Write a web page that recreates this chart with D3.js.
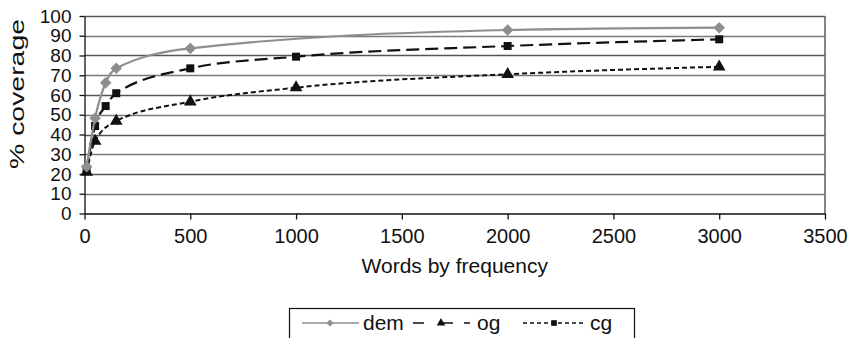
<!DOCTYPE html>
<html>
<head>
<meta charset="utf-8">
<script src="https://cdn.jsdelivr.net/npm/d3@7"></script>
<style>
  body { margin: 0; background: #fff; }
  svg { display: block; font-family: "Liberation Sans", Arial, sans-serif; }
</style>
</head>
<body>
<div id="chart"></div>
<script>
  // Data
  const seriesNames = ["dem", "og", "cg"];
  const demWords = [10, 50, 100, 150, 500, 2000, 3000];
  const demCoverage = [23.7, 48.2, 66.2, 73.5, 83.6, 92.9, 94.1];
  const ogWords = [10, 50, 100, 150, 500, 1000, 2000, 3000];
  const ogCoverage = [22, 44.3, 54.4, 60.9, 73.5, 79.4, 84.8, 88.2];
  const cgWords = [10, 50, 150, 500, 1000, 2000, 3000];
  const cgCoverage = [21, 36.7, 46.8, 56.6, 63.7, 70.5, 74.3];
  const xTicks = [0, 500, 1000, 1500, 2000, 2500, 3000, 3500];
  const yTicks = [0, 10, 20, 30, 40, 50, 60, 70, 80, 90, 100];

  const width = 855;
  const height = 338;

  // Styles per series (plot markers differ from the legend in the original)
  const styles = {
    dem: { color: "#8e8e8e", dash: null, legendDash: null, width: 2.2, plotMarker: "diamond", legendMarker: "diamond" },
    og: { color: "#111", dash: "13,6", legendDash: "11,18,11", width: 2.2, plotMarker: "square", legendMarker: "triangle" },
    cg: { color: "#111", dash: "5,3", legendDash: "4,3", width: 2, plotMarker: "triangle", legendMarker: "square" }
  };

  const seriesData = {
    dem: demWords.map((w, i) => ({ x: w, y: demCoverage[i] })),
    og: ogWords.map((w, i) => ({ x: w, y: ogCoverage[i] })),
    cg: cgWords.map((w, i) => ({ x: w, y: cgCoverage[i] }))
  };

  const svg = d3.select("#chart")
    .append("svg")
    .attr("width", width)
    .attr("height", height);

  // Scales
  const x = d3.scaleLinear().domain([0, 3500]).range([84.5, 825]);
  const y = d3.scaleLinear().domain([0, 100]).range([213.5, 16]);

  // Gridlines
  svg.append("g")
    .selectAll("line")
    .data(yTicks.filter(d => d > 0))
    .enter().append("line")
      .attr("x1", x(0))
      .attr("x2", x(3500))
      .attr("y1", d => Math.round(y(d)) + 0.5)
      .attr("y2", d => Math.round(y(d)) + 0.5)
      .attr("stroke", (d, i) => i % 2 ? "#555" : "#7a7a7a")
      .attr("stroke-width", 1.3);

  // Right border of plot area
  svg.append("line")
    .attr("x1", x(3500)).attr("x2", x(3500))
    .attr("y1", y(100)).attr("y2", y(0))
    .attr("stroke", "#666")
    .attr("stroke-width", 1.6);

  // y axis
  const yAxis = svg.append("g")
    .attr("transform", `translate(${x(0)},0)`)
    .call(d3.axisLeft(y).tickValues(yTicks).tickSize(5).tickPadding(8).tickSizeOuter(0));
  yAxis.selectAll("text").attr("font-size", 19).attr("fill", "#111");
  yAxis.selectAll("line, path").attr("stroke", "#111").attr("stroke-width", 1.3);

  // x axis
  const xAxis = svg.append("g")
    .attr("transform", `translate(0,${y(0)})`)
    .call(d3.axisBottom(x).tickValues(xTicks).tickFormat(d3.format("d"))
      .tickSize(6).tickPadding(9).tickSizeOuter(0));
  xAxis.selectAll("text").attr("font-size", 20).attr("fill", "#111");
  xAxis.selectAll("line, path").attr("stroke", "#111").attr("stroke-width", 1.3);

  // Axis titles
  svg.append("text")
    .attr("x", (x(0) + x(3500)) / 2)
    .attr("y", 273)
    .attr("text-anchor", "middle")
    .attr("font-size", 21)
    .attr("fill", "#111")
    .text("Words by frequency");

  svg.append("text")
    .attr("transform", "translate(24,94) rotate(-90)")
    .attr("text-anchor", "middle")
    .attr("font-size", 20)
    .attr("textLength", 150)
    .attr("lengthAdjust", "spacingAndGlyphs")
    .attr("fill", "#111")
    .text("% coverage");

  // Marker shapes
  function markerPath(type, size) {
    if (type === "diamond") return d3.symbol(d3.symbolDiamond2, size)();
    if (type === "square") return d3.symbol(d3.symbolSquare, size)();
    return d3.symbol(d3.symbolTriangle, size)();
  }
  const plotSize = { diamond: 85, square: 64, triangle: 70 };

  const line = d3.line()
    .x(d => x(d.x))
    .y(d => y(d.y))
    .curve(d3.curveMonotoneX);

  // Lines, drawn dem last so it sits on top like the original
  ["cg", "og", "dem"].forEach(name => {
    const s = styles[name];
    svg.append("path")
      .datum(seriesData[name])
      .attr("fill", "none")
      .attr("stroke", s.color)
      .attr("stroke-width", s.width)
      .attr("stroke-dasharray", s.dash)
      .attr("d", line);

    svg.append("g")
      .selectAll("path")
      .data(seriesData[name])
      .enter().append("path")
        .attr("transform", d => `translate(${x(d.x)},${y(d.y)})`)
        .attr("d", markerPath(s.plotMarker, plotSize[s.plotMarker]))
        .attr("fill", s.color);
  });

  // Legend
  const legend = svg.append("g");
  legend.append("rect")
    .attr("x", 289.5)
    .attr("y", 308.5)
    .attr("width", 345)
    .attr("height", 40)
    .attr("fill", "#fff")
    .attr("stroke", "#111")
    .attr("stroke-width", 1.2);

  const legendX = [302, 413, 523];
  seriesNames.forEach((name, i) => {
    const s = styles[name];
    const g = legend.append("g").attr("transform", `translate(${legendX[i]},323)`);
    g.append("line")
      .attr("x1", 0).attr("x2", name === "cg" ? 62 : 57)
      .attr("stroke", s.color)
      .attr("stroke-width", name === "dem" ? 1.5 : 1.6)
      .attr("stroke-dasharray", s.legendDash);
    g.append("path")
      .attr("transform", `translate(${name === "cg" ? 31 : 28},0)`)
      .attr("d", markerPath(s.legendMarker, 32))
      .attr("fill", s.color);
    g.append("text")
      .attr("x", name === "cg" ? 67 : (name === "dem" ? 61 : 64))
      .attr("y", 7)
      .attr("font-size", 21)
      .attr("fill", "#111")
      .text(name);
  });
</script>
</body>
</html>
